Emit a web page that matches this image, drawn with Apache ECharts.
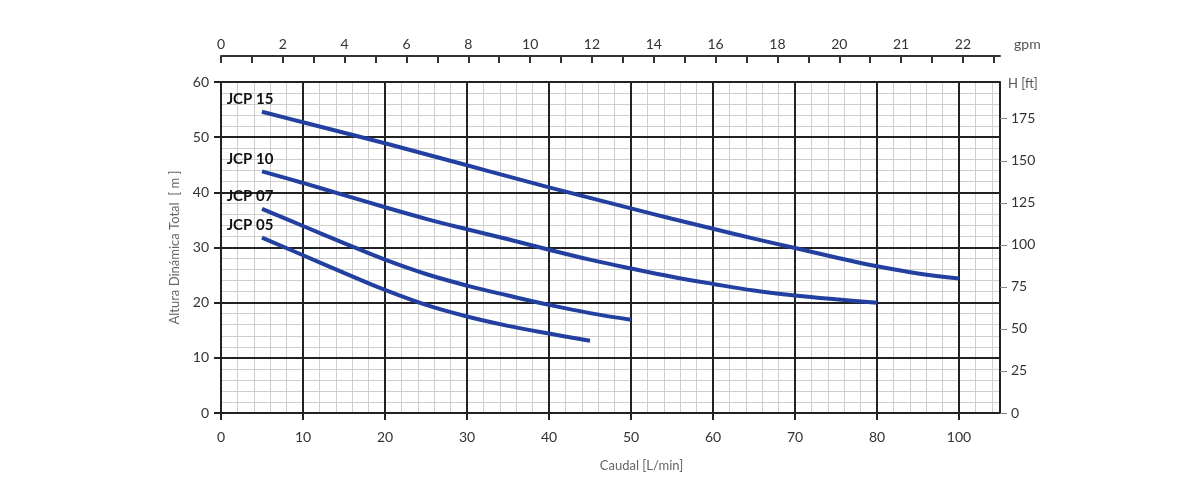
<!DOCTYPE html>
<html>
<head>
<meta charset="utf-8">
<script src="https://cdn.jsdelivr.net/npm/echarts@6/dist/echarts.min.js"></script>
<style>
html,body{margin:0;padding:0;background:#fff;}
#chart{width:1200px;height:502px;}
</style>
</head>
<body>
<div id="chart"></div>
<script>
// ---- data (flow in L/min, head in m) ----
const seriesNames = ['JCP 15', 'JCP 10', 'JCP 07', 'JCP 05'];
const jcp15 = [[5,54.6],[10,52.7],[15,50.8],[20,48.9],[25,46.9],[30,44.9],[35,42.9],[40,40.9],[45,39.0],[50,37.1],[55,35.2],[60,33.4],[65,31.6],[70,29.9],[75,28.2],[80,26.6],[90,25.3],[100,24.4]];
const jcp10 = [[5,43.8],[10,41.7],[15,39.5],[20,37.3],[25,35.2],[30,33.3],[35,31.5],[40,29.6],[45,27.8],[50,26.2],[55,24.7],[60,23.4],[65,22.2],[70,21.3],[75,20.6],[80,20.0]];
const jcp07 = [[5,37.0],[10,33.9],[15,30.8],[20,27.8],[25,25.2],[30,23.1],[35,21.3],[40,19.6],[45,18.1],[50,16.9]];
const jcp05 = [[5,31.8],[10,28.6],[15,25.4],[20,22.3],[25,19.6],[30,17.5],[35,15.8],[40,14.4],[45,13.1]];
// bottom axis tick labels (last step 80 -> 100 is drawn as one division)
const flowLabels = [0,10,20,30,40,50,60,70,80,100];
// top axis (gpm) labels, as printed
const gpmLabels = ['0','2','4','6','8','10','12','14','16','18','20','21','22'];
const headLabels = [0,10,20,30,40,50,60];
const ftLabels = [0,25,50,75,100,125,150,175];

// axis scale: L/min -> axis position (0..80 linear, 80..100 compressed into one division)
function toAxis(v){ return v <= 80 ? v : 80 + (v - 80) / 2; }
const AXMAX = 95;
const GPM_STEP = 3.77;

const dark = '#222';
const fontFam = 'Lato, "Open Sans", sans-serif';

function mk(name, data){
  const d = data.map(p => [toAxis(p[0]), p[1]]);
  d[0] = {value: d[0], label: {show: true, formatter: name, position: 'top', offset: [-12, 0],
    color: '#111', fontSize: 15, fontWeight: 'bold', fontFamily: fontFam}};
  return {
    name: name, type: 'line', xAxisIndex: 0, yAxisIndex: 0, data: d,
    smooth: 0.4,
    symbol: 'circle', symbolSize: 0, showSymbol: true, z: 5,
    label: {show: false},
    lineStyle: {color: '#2340a0', width: 4, cap: 'butt'},
    itemStyle: {color: '#2340a0'}
  };
}

const chart = echarts.init(document.getElementById('chart'));
chart.setOption({
  animation: false,
  backgroundColor: '#fff',
  grid: {left: 221, right: 200, top: 82, bottom: 89, containLabel: false},
  xAxis: [
    { // bottom L/min
      type: 'value', position: 'bottom', min: 0, max: AXMAX, interval: 10, z: 3,
      name: 'Caudal [L/min]', nameLocation: 'middle', nameGap: 46,
      nameTextStyle: {color: '#666', fontSize: 13, fontFamily: fontFam, padding: [0,0,0,62]},
      axisLine: {show: true, onZero: false, lineStyle: {color: dark, width: 2}},
      axisTick: {show: true, length: 7, lineStyle: {color: dark, width: 2},
        customValues: flowLabels.map(toAxis)},
      axisLabel: {color: '#333', fontSize: 14, margin: 17, fontFamily: fontFam,
        customValues: flowLabels.map(toAxis),
        formatter: v => { const i = flowLabels.map(toAxis).findIndex(x => Math.abs(x - v) < 0.01); return i >= 0 ? String(flowLabels[i]) : ''; }},
      splitLine: {show: true, lineStyle: {color: dark, width: 2}}
    },
    { // top gpm
      type: 'value', position: 'top', offset: 26, min: 0, max: AXMAX, z: 3,
      name: 'gpm', nameLocation: 'end', nameGap: 14,
      nameTextStyle: {color: '#555', fontSize: 14, fontFamily: fontFam, verticalAlign: 'bottom', padding: [0,0,5,0]},
      axisLine: {show: true, onZero: false, lineStyle: {color: '#333', width: 2}},
      axisTick: {show: true, inside: true, length: 7, lineStyle: {color: '#333', width: 2},
        customValues: Array.from({length: 26}, (_, k) => k * GPM_STEP)},
      axisLabel: {color: '#333', fontSize: 14, margin: 5, fontFamily: fontFam,
        customValues: gpmLabels.map((_, i) => i * 2 * GPM_STEP),
        formatter: v => { const i = Math.round(v / (2 * GPM_STEP)); return gpmLabels[i] || ''; }},
      splitLine: {show: false}
    },
    { // minor grid (x)
      type: 'value', position: 'bottom', min: 0, max: AXMAX, interval: 2, z: 1, show: true,
      axisLine: {show: false, onZero: false}, axisTick: {show: false}, axisLabel: {show: false},
      splitLine: {show: true, lineStyle: {color: '#cfcfcf', width: 1}}
    }
  ],
  yAxis: [
    { // left m
      type: 'value', position: 'left', min: 0, max: 60, interval: 10, z: 3,
      name: 'Altura Dinámica Total  [ m ]', nameLocation: 'middle', nameGap: 40,
      nameTextStyle: {color: '#666', fontSize: 13, fontFamily: fontFam},
      axisLine: {show: true, onZero: false, lineStyle: {color: dark, width: 2}},
      axisTick: {show: true, length: 7, lineStyle: {color: dark, width: 2}},
      axisLabel: {color: '#333', fontSize: 14, margin: 12, fontFamily: fontFam,
        customValues: headLabels},
      splitLine: {show: true, lineStyle: {color: dark, width: 2}}
    },
    { // right ft
      type: 'value', position: 'right', min: 0, max: 60 / 0.3048, z: 3,
      name: 'H [ft]', nameLocation: 'end', nameGap: -2,
      nameTextStyle: {color: '#555', fontSize: 13, fontFamily: fontFam, align: 'left', verticalAlign: 'middle', padding: [0,0,0,8]},
      axisLine: {show: true, onZero: false, lineStyle: {color: dark, width: 2}},
      axisTick: {show: true, length: 7, lineStyle: {color: '#888', width: 1}, customValues: ftLabels},
      axisLabel: {color: '#333', fontSize: 14, margin: 11, fontFamily: fontFam, customValues: ftLabels},
      splitLine: {show: false}
    },
    { // minor grid (y)
      type: 'value', position: 'left', min: 0, max: 60, interval: 2, z: 1, show: true,
      axisLine: {show: false, onZero: false}, axisTick: {show: false}, axisLabel: {show: false},
      splitLine: {show: true, lineStyle: {color: '#cfcfcf', width: 1}}
    }
  ],
  series: [mk(seriesNames[0], jcp15), mk(seriesNames[1], jcp10), mk(seriesNames[2], jcp07), mk(seriesNames[3], jcp05)]
});
</script>
</body>
</html>
